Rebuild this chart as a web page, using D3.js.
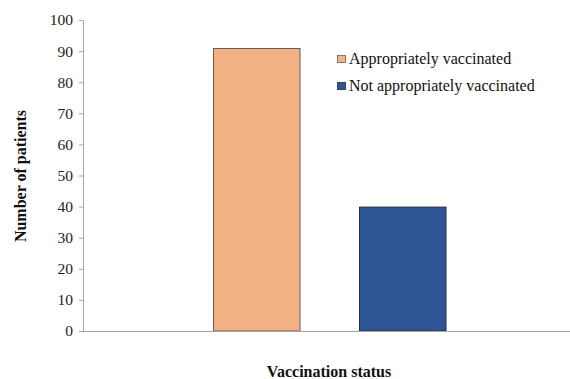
<!DOCTYPE html>
<html><head><meta charset="utf-8">
<script src="https://cdn.jsdelivr.net/npm/d3@7"></script>
<style>body{margin:0;background:#fff}svg{display:block}svg text{font-family:"Liberation Serif","Times New Roman",serif}</style>
</head><body>
<script>
const categories = [""];
const seriesNames = ["Appropriately vaccinated", "Not appropriately vaccinated"];
const seriesValues = [91, 40];
const seriesColors = ["#F4B183", "#2F5597"];
const seriesStrokes = ["#5f5f5f", "#2a2f3a"];
const yTicks = [0,10,20,30,40,50,60,70,80,90,100];

const W = 570, H = 379;
const svg = d3.select("body").append("svg").attr("width", W).attr("height", H);
const font = "Liberation Serif, Times New Roman, serif";

const y = d3.scaleLinear().domain([0,100]).range([331, 20]);
const x0 = d3.scaleBand().domain(categories).range([83, 576]).paddingInner(0).paddingOuter(0.558);
const x1 = d3.scaleBand().domain(seriesNames).range([0, x0.bandwidth()]).paddingInner(0.404).paddingOuter(0);

// y axis
const ya = svg.append("g").attr("transform","translate(83,0)")
  .call(d3.axisLeft(y).tickValues(yTicks).tickSize(4).tickSizeOuter(0).tickPadding(6));
ya.attr("font-family", null);
ya.select(".domain").attr("stroke","#a6a6a6");
ya.selectAll(".tick line").attr("stroke","#a6a6a6");
ya.selectAll("text").style("font-family",font).style("font-size","15.5px").attr("fill","#222");

// bars
const data = seriesNames.map((s,i)=>({s, v: seriesValues[i], c: seriesColors[i], k: seriesStrokes[i]}));
svg.append("g").selectAll("rect").data(data).join("rect")
  .attr("x", d => x0(categories[0]) + x1(d.s) + 0.5)
  .attr("y", d => y(d.v) + 0.5)
  .attr("width", x1.bandwidth() - 0.5)
  .attr("height", d => y(0) - y(d.v) - 0.5)
  .attr("fill", d => d.c)
  .attr("stroke", d => d.k)
  .attr("stroke-width", 1);

// x axis line
svg.append("line").attr("x1",83).attr("x2",W).attr("y1",y(0)+0.5).attr("y2",y(0)+0.5)
  .attr("stroke","#a6a6a6").attr("stroke-width",1.2);

// legend
const lg = svg.append("g").attr("transform","translate(337,0)");
data.forEach((d,i)=>{
  const yy = 55 + i*27;
  lg.append("rect").attr("x",0.5).attr("y",yy+0.5).attr("width",8).attr("height",7)
    .attr("fill",d.c).attr("stroke",d.k).attr("stroke-width",0.8);
  lg.append("text").attr("x",12).attr("y",yy+9).text(d.s)
    .style("font-family",font).style("font-size","16px").attr("fill","#111");
});

// axis titles
svg.append("text").attr("x",329).attr("y",377).attr("text-anchor","middle")
  .style("font-family",font).style("font-size","16px").attr("font-weight","bold").attr("fill","#111")
  .text("Vaccination status");
svg.append("text").attr("transform","translate(26,176) rotate(-90)").attr("text-anchor","middle")
  .style("font-family",font).style("font-size","16px").attr("font-weight","bold").attr("fill","#111")
  .text("Number of patients");
</script>
</body></html>
